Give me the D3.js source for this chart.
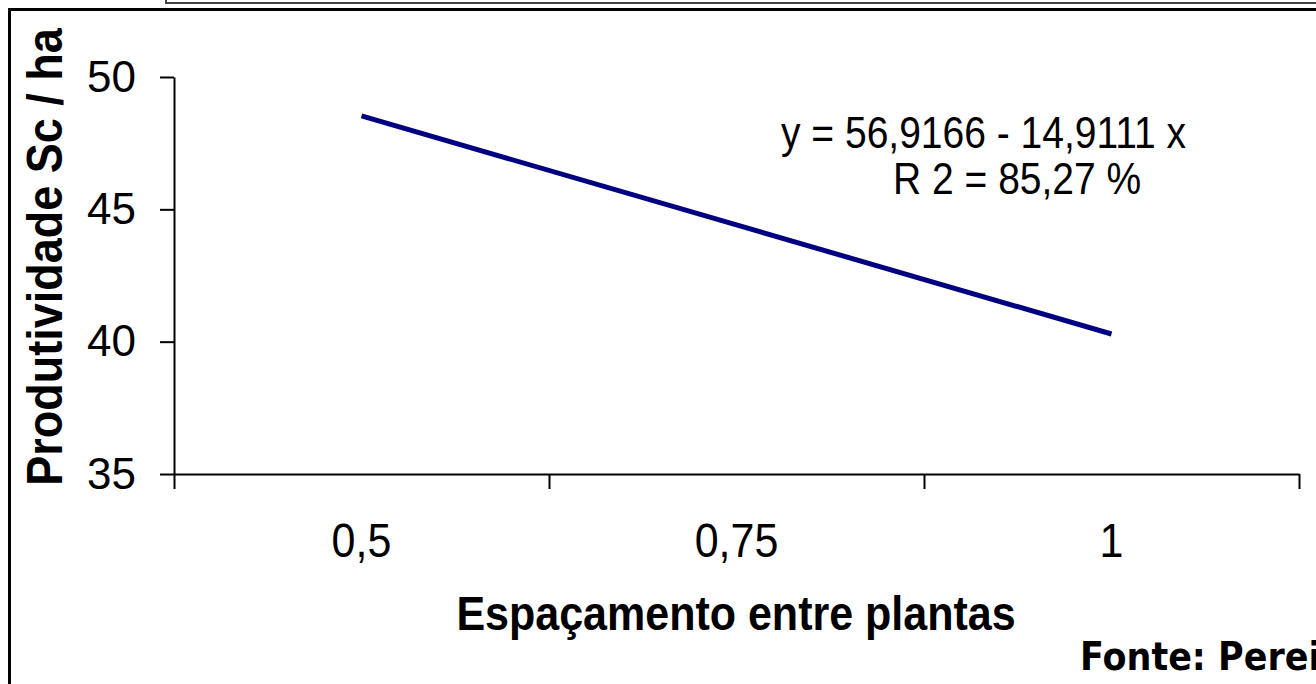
<!DOCTYPE html>
<html>
<head>
<meta charset="utf-8">
<script src="https://cdn.jsdelivr.net/npm/d3@7"></script>
<style>
  html, body { margin: 0; padding: 0; background: #fff; overflow: hidden; }
  svg { display: block; font-family: Arial, "Liberation Sans", sans-serif; }
</style>
</head>
<body>
<svg width="1316" height="684"></svg>
<script>
(function (d3) {
    'use strict';

    // data
    const categories = ['0,5', '0,75', '1'];
    const produtividade = [48.53, 44.41, 40.29];
    const yTicks = [35, 40, 45, 50];

    const svg = d3.select('svg');
    const left = 174, right = 1299, top = 77, bottom = 474;
    const stretch = 1.13; // the original text is a bit taller than plain Arial

    // frame bits
    svg.append('rect')
      .attr('x', 166).attr('y', -10)
      .attr('width', 1200).attr('height', 13)
      .attr('fill', 'none').attr('stroke', '#444').attr('stroke-width', 2);
    svg.append('rect')
      .attr('x', 9.5).attr('y', 9.5)
      .attr('width', 1400).attr('height', 800)
      .attr('fill', 'none').attr('stroke', '#000').attr('stroke-width', 3);

    const x = d3.scaleBand().domain(categories).range([left, right]).padding(0);
    const xEdges = d3.scaleLinear().domain([0, categories.length]).range([left, right]);
    const y = d3.scaleLinear().domain([35, 50]).range([bottom, top]);

    // y axis
    const yAxis = svg.append('g')
      .attr('transform', `translate(${left},0)`)
      .call(d3.axisLeft(y).tickValues(yTicks).tickSize(14).tickPadding(24).tickSizeOuter(0));
    yAxis.select('.domain').attr('stroke-width', 2);
    yAxis.selectAll('.tick line').attr('stroke-width', 2);
    yAxis.selectAll('text').attr('font-size', 44).attr('font-family', 'Arial, "Liberation Sans", sans-serif').attr('fill', '#000');

    // x axis: tick marks at the band edges
    const xMarks = svg.append('g')
      .attr('transform', `translate(0,${bottom})`)
      .call(d3.axisBottom(xEdges).ticks(3).tickSize(15).tickFormat('').tickSizeOuter(0));
    xMarks.select('.domain').attr('stroke-width', 2);
    xMarks.selectAll('.tick line').attr('stroke-width', 2);

    // x labels in the band centres
    const xLabels = svg.append('g')
      .attr('transform', `translate(0,${bottom})`)
      .call(d3.axisBottom(x).tickSize(0).tickPadding(43));
    xLabels.select('.domain').remove();
    xLabels.selectAll('text')
      .attr('font-size', 43).attr('font-family', 'Arial, "Liberation Sans", sans-serif').attr('fill', '#000')
      .attr('transform', `scale(1,${stretch})`);

    // regression line
    const line = d3.line()
      .x((d, i) => x(categories[i]) + x.bandwidth() / 2)
      .y(d => y(d));
    svg.append('path')
      .datum(produtividade)
      .attr('d', line)
      .attr('fill', 'none')
      .attr('stroke', '#000080')
      .attr('stroke-width', 5);

    function label(px, py, txt) {
        return svg.append('g')
          .attr('transform', `translate(${px},${py}) scale(1,${stretch})`)
          .append('text')
          .text(txt);
    }

    // equation
    label(781, 148, 'y = 56,9166 - 14,9111 x').attr('font-size', 39);
    label(893, 194, 'R 2 = 85,27 %').attr('font-size', 39);

    // axis titles
    label(736, 630, 'Espaçamento entre plantas')
      .attr('text-anchor', 'middle')
      .attr('font-size', 43).attr('font-weight', 'bold');
    svg.append('text')
      .attr('transform', `translate(62,257) rotate(-90) scale(1,${stretch})`)
      .attr('text-anchor', 'middle')
      .attr('font-size', 45).attr('font-weight', 'bold')
      .text('Produtividade Sc / ha');

    label(1080, 670, 'Fonte: Pereira')
      .attr('font-family', 'Tahoma, "DejaVu Sans", sans-serif')
      .attr('font-size', 35).attr('font-weight', 'bold');
}(d3));
</script>
</body>
</html>
